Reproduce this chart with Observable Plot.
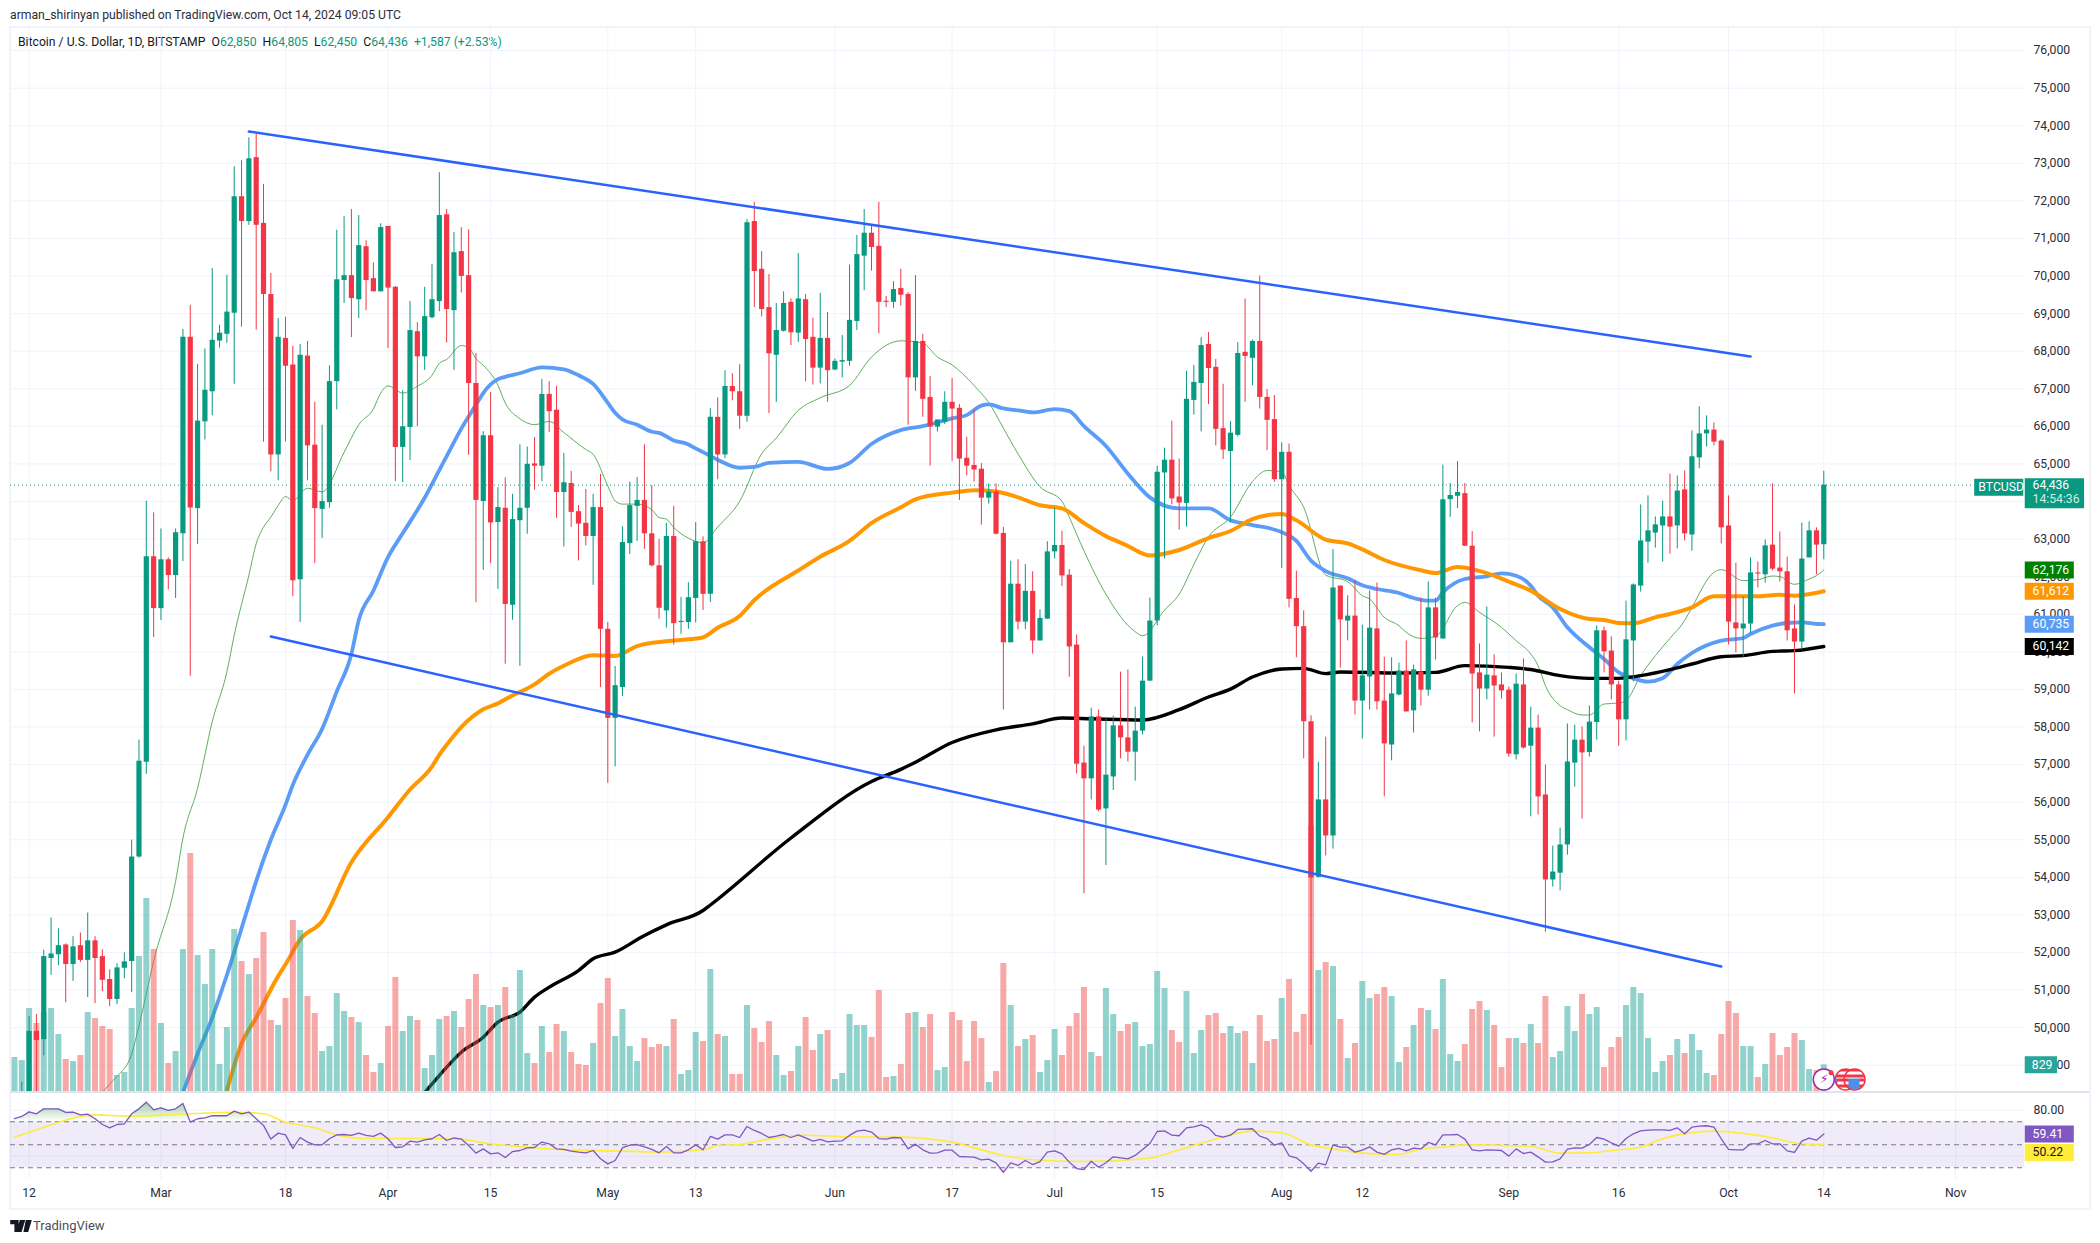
<!DOCTYPE html>
<html><head><meta charset="utf-8">
<script src="https://cdn.jsdelivr.net/npm/d3@7"></script>
<script src="https://cdn.jsdelivr.net/npm/@observablehq/plot@0.6"></script>
<style>
html,body{margin:0;padding:0;background:#fff}
#stage{position:relative;width:2100px;height:1243px;overflow:hidden;font-family:"Roboto",sans-serif;color:#131722}
#stage svg.plot-layer{position:absolute;left:0;top:0;margin:0}
.hd{position:absolute;white-space:pre;font-size:12.2px;line-height:16px}
#frame{position:absolute;left:9px;top:26px;width:2078px;height:1180px;border:2px solid #f0f3fa}
#sep{position:absolute;left:10px;top:1091px;width:2079px;height:2px;background:#e0e3eb}
.g{color:#089981}
</style></head>
<body><div id="stage">
<div id="frame"></div>
<div class="hd" style="left:10px;top:7px;color:#2a2e39">arman_shirinyan published on TradingView.com, Oct 14, 2024 09:05 UTC</div>
<div class="hd" style="left:18px;top:34px">Bitcoin / U.S. Dollar, 1D, BITSTAMP  O<span class="g">62,850</span>  H<span class="g">64,805</span>  L<span class="g">62,450</span>  C<span class="g">64,436</span>  <span class="g">+1,587 (+2.53%)</span></div>
<svg style="position:absolute;left:10px;top:1220px" width="22" height="12" viewBox="0 0 36 20"><path d="M0 0h14v20H7V7H0zM16 0h9l-6 20h-9zM26 0h10l-6 20h-8z" fill="#131722"/><circle cx="20" cy="4" r="3.5" fill="#131722"/></svg>
<div class="hd" style="left:33px;top:1218px;font-size:13px;color:#4a4e59">TradingView</div>
</div>
<script>
// Daily Bitstamp BTC/USD candles, one value per day from 10 Feb 2024 to 14 Oct 2024
const opens = [
47130,47770,48290,49900,49680,51840,51940,52200,51680,52180,51790,52310,51890,51280,50750,51580,51760,54540,57060,62530,
61150,62450,62030,63140,68370,63810,66120,66920,68270,68450,69010,72110,71450,73150,71400,69510,65240,68340,67630,61920,67870,65500,63790,63970,67190,69880,70010,69370,70780,69930,69580,
71320,69700,65440,65970,68520,67850,68890,69320,71630,69080,70650,70010,67140,64000,65750,63440,63820,61240,63490,63820,65000,64940,66850,66430,64240,64480,63730,63420,63070,63840,
60600,58230,59050,62880,63870,64030,63140,62290,61090,63070,60780,60780,61420,62930,61530,66240,65240,67060,66920,66270,71450,70180,69160,67890,68530,69300,68480,69370,68370,67550,68340,
67500,67710,67730,68790,70530,71140,70790,69330,69300,69670,69510,67290,68260,66770,65980,66110,66640,66480,65150,64960,64860,64090,64250,63150,60240,61800,60790,61610,60290,60870,
62660,62830,62040,60180,57040,56620,58270,55820,56670,58030,57710,57330,57890,59220,60820,64760,65100,64120,63950,66690,67140,68180,67570,65940,65330,65760,67970,67810,68260,66770,66180,
64580,65310,61420,60670,58140,54000,56060,55100,61750,60820,60950,58690,59330,60610,58690,57520,58850,59490,58430,59460,58980,61170,60340,64050,64140,64210,62810,59440,59010,59360,59120,
58980,57260,59120,57490,57970,56190,53930,54110,54860,57040,57650,57320,58120,60560,60020,59120,58190,60290,61750,62920,63160,63350,63590,63350,64310,63110,65160,65800,65900,65610,
63350,60770,60610,60740,62100,62050,62840,62230,62130,60610,60260,62500,63220,62850];
const highs = [
48150,48550,50300,50350,52060,52920,52630,52230,52420,52520,53050,52420,52070,51540,51700,51990,54990,57650,64010,63700,
63270,62500,63270,68580,69220,67650,68060,70200,68690,70020,72910,73070,73680,73820,72440,70070,68870,68900,68130,68180,68260,66640,66030,67610,71220,71580,71770,71610,70940,70350,71390,
71320,69720,66950,69320,68760,69700,70310,72750,71770,71160,71290,71230,67940,65860,66900,64370,64630,64190,65510,65450,65700,67250,67190,67060,65280,64800,63890,64320,64190,64720,
60780,59610,63330,64520,64640,65510,64420,62990,63420,63870,61450,61840,63440,63060,66470,66760,67480,67400,67640,71500,71960,70650,70040,69270,69580,69390,70600,69510,68880,69540,69030,
67790,68420,70290,71080,71770,71370,71960,69460,69850,70180,69560,70010,68450,67330,66170,66920,67270,66580,65710,66430,65010,64470,64470,63310,62410,62450,62320,62130,61110,62930,
63820,63210,62190,60450,57490,58500,58450,58210,58290,59460,59520,58530,59860,61430,64940,65420,66140,65130,67470,67620,68360,68500,67780,67120,66130,68230,69390,68300,70000,66980,66820,
65560,65530,62150,61090,58300,57060,57730,62720,61750,61490,61890,60710,61620,61830,59860,59840,59700,60290,59650,61430,61860,61430,64970,64480,65060,64480,63200,60210,61190,59920,59440,
59060,59410,59810,58530,58320,56990,54830,55310,58080,58050,58000,58560,60690,60660,60400,59220,61350,61810,63910,64150,63590,64010,64730,64680,64810,65880,66520,66280,66090,65640,
64150,62360,61460,62500,62390,62980,64470,63190,62520,61250,63430,63460,63300,64805];
const lows = [
46800,47700,47500,48280,49250,51390,51650,50660,51230,51730,50800,50640,50960,50560,50610,51300,50930,54510,56740,60380,
60830,61650,61420,62400,59350,62860,65640,66280,68080,68210,67120,68640,71350,68560,65580,64790,64550,65590,61470,60780,64550,62350,63020,63820,66440,69270,68360,68870,69080,69580,69580,
68070,64530,64500,65090,65990,67490,68860,69050,68220,67490,69550,65230,61310,62170,62350,61660,59670,60840,59610,63130,64300,64530,65840,63550,62790,63310,62420,62820,61770,59050,
56500,56940,58810,62590,62940,62730,62260,60870,60630,60180,60470,60600,60770,61100,61310,64580,65140,66680,65920,66110,69160,68910,66340,66640,68510,68150,68230,67190,67100,67130,66640,
67480,67290,67600,68550,69610,70130,68460,69160,69140,69200,66030,66930,66240,64940,65850,66050,65070,64030,64680,64520,63370,63930,63110,58450,60240,60580,60590,59940,60290,60870,
62470,61740,59320,56750,53560,56060,55740,54310,56310,57150,57070,56560,57790,59220,60690,62470,63910,63240,63320,66300,65850,66580,65480,65120,63430,65720,66640,67080,66460,65350,64510,
62220,61170,59840,57150,49530,53980,54570,54750,59570,60290,58320,57680,58450,58450,56140,57100,58830,58400,57840,58560,58820,59780,60340,63580,63810,62810,58110,57870,58720,57730,58740,
57200,57120,57410,55610,55660,52540,53740,53640,54590,56400,55550,57200,57650,59440,58720,57490,57630,59200,61590,62360,62760,62390,62600,62740,62950,62680,64870,65450,65480,62870,
60180,59970,59860,60480,61700,61830,62150,61860,60290,58880,60050,62500,62050,62450];
const closes = [
47770,48290,49900,49660,51890,51960,52180,51680,52150,51790,52310,51840,51260,50750,51590,51750,54540,57090,62530,61150,
62450,62030,63170,68370,63830,66140,66960,68290,68480,69040,72110,71450,73120,71350,69510,65240,68370,67600,61890,67890,65480,63810,64000,67190,69900,70010,69400,70810,69880,69580,71290,
69680,65440,65990,68550,67850,68920,69370,71610,69110,70620,69990,67140,64030,65750,63430,63840,61260,63520,63820,64990,64940,66850,66390,64240,64500,63710,63400,63070,63840,60600,
58230,59100,62910,63890,64030,63140,62290,61160,63070,60750,60810,61440,62930,61530,66240,65240,67060,66920,66270,71420,70120,69110,67930,68550,69270,68490,69390,68310,67550,68340,67480,
67730,67750,68820,70570,71140,70760,69300,69300,69640,69490,67290,68260,66720,65980,66170,66640,66460,65130,64940,64840,64090,64250,63130,60240,61800,60790,61610,60290,60890,62660,
62830,62020,60130,57010,56620,58270,55790,56720,58030,57710,57330,57890,59220,60820,64780,65100,64070,63960,66720,67170,68150,67540,65920,65370,65820,67940,67860,68260,66770,66160,64580,
65310,61400,60670,58140,53980,56060,55100,61700,60850,60950,58690,59360,60630,58670,57550,58880,59490,58400,59520,58980,61170,60370,64050,64160,64240,62810,59410,59010,59380,59090,58960,
57280,59140,57440,57970,56140,53930,54140,54860,57070,57650,57310,58130,60560,60000,59120,58190,60320,61780,62950,63220,63380,63590,63320,64280,63140,65190,65800,65900,65580,63300,
60790,60610,60740,62100,62070,62820,62200,62130,60560,60260,62470,63220,62840,64436];
const volumes = [
1050,960,2520,2070,2400,2520,1740,990,930,1110,2400,2220,1980,1890,510,600,2520,4080,5820,4290,
2070,870,1230,4290,7170,4110,3240,4290,840,1950,4890,3930,3540,4020,4800,2160,2010,2820,5160,4860,2880,2370,1230,1380,2970,2430,2250,2100,1110,600,870,
1980,3450,1830,2280,2160,720,1110,2190,2280,2430,1950,2790,3540,2610,2550,2610,3150,2310,3660,1170,870,1980,1200,2040,1830,1200,840,810,1470,2670,
3420,1680,2490,1380,930,1620,1350,1440,1380,2190,540,660,1800,1530,3690,1740,1680,540,540,2610,1920,1500,2130,1110,510,630,1380,2250,1260,1740,1860,
390,570,2340,2010,2010,1650,3060,450,480,840,2370,2400,1950,2340,660,750,2400,2160,930,2130,1620,300,630,3870,2610,1380,1590,1710,600,960,
1890,1110,1980,2370,3150,1200,1080,3120,2340,1830,2040,2100,1380,1440,3630,3120,1860,1500,3030,1170,1860,2310,2370,1770,1980,1770,1830,870,2310,1530,1590,
2820,3390,1800,2340,7980,3660,3900,3780,2190,1020,1470,3330,2820,2940,3150,2880,900,1350,2010,2520,2460,1890,3390,1140,930,1440,2490,2730,2460,2010,750,
1620,1620,1470,2040,1470,2880,1050,1230,2580,1830,2940,2340,2550,750,1350,1650,2610,3150,2970,1620,600,930,1110,1590,1170,1740,1260,570,510,1740,
2730,2370,1380,1380,450,840,1770,1110,1350,1770,1560,690,660,829];
const rsiValues = [
72.6,74.6,78.6,76.9,81.2,81.2,81.2,78.1,78.4,76.0,76.6,72.6,67.6,64.7,67.6,68.2,76.9,81.2,87.0,80.4,82.1,
79.8,81.2,85.9,69.7,72.6,73.4,75.2,75.2,75.2,79.2,76.9,78.4,72.6,66.8,54.9,60.1,58.6,46.8,56.3,52.3,
49.9,49.9,55.2,58.6,58.9,58.1,60.1,58.1,57.2,60.1,55.2,47.6,48.2,53.1,52.3,54.3,55.2,58.9,53.7,56.0,
54.9,49.4,42.7,46.4,42.1,43.0,38.9,44.1,45.0,47.3,47.6,52.3,50.8,46.4,45.9,44.4,43.6,43.0,45.0,37.8,
33.4,36.3,47.3,49.6,50.2,48.2,45.9,43.0,48.5,43.0,43.0,45.6,49.9,
45.6,57.2,54.9,58.6,58.6,56.3,65.9,62.4,59.8,56.3,57.5,58.9,56.3,58.6,56.0,53.1,54.6,52.5,53.1,53.4,58.1,61.8,62.7,61.0,55.4,54.9,56.3,56.0,46.4,50.5,45.6,42.7,43.0,45.3,45.3,39.8,39.5,39.2,36.9,37.5,34.3,25.9,34.3,32.0,36.3,32.8,35.4,43.6,44.7,42.1,34.9,29.3,28.5,35.7,30.5,34.3,39.5,38.6,37.8,40.7,45.9,51.1,61.5,62.1,58.3,57.8,64.7,65.6,67.3,64.7,58.1,56.6,58.3,63.3,63.6,63.9,57.5,55.4,49.6,51.7,40.4,38.6,33.4,27.0,34.0,32.5,49.9,47.9,47.9,43.6,45.3,48.2,43.6,41.6,45.6,46.8,
44.7,47.0,46.4,52.0,49.9,58.6,58.6,58.9,54.9,45.6,44.7,45.6,45.3,45.0,40.1,46.4,42.4,43.6,39.5,34.9,35.2,37.8,46.2,47.3,47.0,50.2,56.3,54.9,51.7,48.8,55.4,59.5,62.1,62.7,63.0,63.0,62.4,64.7,59.5,65.3,66.2,66.5,65.3,55.2,45.9,45.6,45.6,50.8,50.8,53.7,50.8,50.8,44.7,43.3,53.1,55.7,54.0,59.41];

// Moving averages and RSI average, read at key points. Days count from 12 Feb 2024.
const greenDays = [10,11,12,14,15,16,17,20,21,23,25,27,28,30,31,32,33,34,35,36,38,40,43,45,47,48,49,51,53,55,56,57,59,60,61,62,64,65,67,69,71,73,76,77,79,80,81,83,85,86,87,88,90,92,94,97,100,102,105,108,112,115,119,122,124,126,129,131,133,135,138,141,142,144,147,151,152,155,157,159,161,164,167,169,171,172,174,177,180,182,183,185,187,188,190,192,195,196,198,201,203,205,206,207,209,210,212,213,215,217,218,220,222,224,226,227,230,231,234,236,238,239,241,243,244,245];
const greenVals = [48274,48500,48700,49300,50050,50900,51770,53893,55044,56371,58141,59469,60442,62035,62876,63319,63584,63894,64133,64027,64353,64257,65309,66045,66466,66887,67077,66887,67066,67361,67676,67781,68150,68097,67802,67624,67098,66624,66204,66045,66130,65835,65383,65257,64415,64015,63931,63931,63784,63573,63531,63310,63026,62900,63321,64005,65268,65688,66425,66761,67088,67845,68276,68213,67845,67635,67088,66635,65952,65268,64395,64005,63584,62690,61533,60534,60428,61112,61533,62322,63058,63584,64531,64826,64794,64426,63847,62044,61867,61494,61405,60918,60696,60518,60359,60412,61228,61317,61051,60652,60297,59942,59632,59099,58568,58461,58319,58319,58612,58638,58700,59366,59898,60359,60830,61184,62116,62187,61894,61920,62018,62000,61796,61938,62027,62176];
const blueDays = [21,23,25,27,30,31,33,35,36,38,40,42,44,45,47,49,51,54,56,57,59,61,62,64,65,67,70,73,75,77,79,80,81,83,85,86,88,90,91,92,94,97,99,101,105,109,112,115,119,122,126,128,130,131,133,135,137,140,142,144,147,150,153,157,161,164,167,171,173,175,177,180,182,184,187,189,191,192,193,196,199,201,203,205,206,208,210,213,215,217,219,221,223,225,227,231,234,235,238,240,242,244,245];
const blueVals = [48274,49300,50265,51400,53274,53900,55000,55929,56460,57256,57950,58944,59944,60838,61627,62521,63153,64099,64836,65204,65940,66572,66887,67255,67318,67413,67571,67518,67361,67129,66624,66361,66182,66045,65856,65825,65625,65520,65414,65315,65110,64899,64920,65026,65057,64868,65026,65531,65899,66004,66214,66299,66551,66583,66477,66425,66372,66456,66404,66004,65478,64741,64110,63816,63816,63500,63374,63185,62953,62427,62150,61955,61770,61672,61565,61432,61361,61361,61583,61938,62009,62088,62026,61761,61495,61184,60652,60120,59809,59455,59295,59206,59295,59676,59969,60297,60368,60475,60696,60767,60785,60741,60735];
const orangeDays = [27,29,31,34,35,37,40,44,49,52,55,56,57,59,62,64,66,69,71,73,77,80,83,87,90,92,94,97,99,105,108,112,115,119,121,126,129,132,135,138,141,144,147,150,152,153,157,161,164,167,169,171,173,177,180,182,185,190,192,195,197,201,202,205,209,213,215,217,219,222,224,227,230,233,236,239,241,245];
const orangeVals = [48327,49569,50265,51371,51681,52345,52832,54400,55600,56336,56946,57261,57524,57998,58471,58629,58839,59134,59418,59628,59912,59891,60154,60280,60333,60386,60639,60954,61375,62164,62532,62953,63427,63847,64058,64237,64300,64268,64110,63900,63816,63427,63079,62816,62617,62564,62711,63027,63216,63532,63637,63668,63500,62985,62885,62725,62444,62171,62097,62255,62202,61950,61867,61628,61140,60874,60847,60767,60758,60918,61007,61184,61477,61477,61477,61521,61495,61612];
const blackDays = [54,56,59,62,64,67,69,71,75,77,80,84,87,92,93,104,115,119,121,126,132,137,141,145,152,157,161,164,167,171,174,177,179,187,192,196,202,205,209,213,217,220,224,227,231,234,238,241,245];
const blackVals = [48274,48726,49347,49746,50145,50412,50811,51077,51520,51831,52008,52452,52735,53117,53263,55046,56550,56872,57062,57588,57925,58083,58240,58219,58187,58461,58798,59008,59330,59543,59560,59420,59465,59436,59454,59632,59587,59530,59366,59295,59295,59366,59526,59676,59871,59898,60013,60031,60142];
const rsiAvgDays = [-2,2,7,9,14,20,28,32,35,39,42,46,50,55,59,63,68,74,80,86,92,94,97,101,106,112,119,126,133,137,144,153,156,161,167,171,175,178,182,187,190,193,196,205,209,213,217,220,223,230,238,242,245];
const rsiAvgVals = [56.6,65.3,74.6,76.0,74.9,76.3,78.3,76.9,69.6,64.7,58.6,55.4,55.4,55.4,54.6,50.8,47.9,45.3,44.7,43.6,45.6,49.4,50.2,54.9,58.3,56.9,56.6,52.3,40.7,36.9,35.4,38.3,43.6,53.1,61.8,60.4,49.9,46.4,42.7,41.5,46.4,47.9,49.9,48.5,42.7,43.0,45.6,47.9,55.2,61.8,56.0,50.8,50.22];

// Channel trend lines
const upperDays = [30,235], upperPrices = [73846,67859];
const lowerDays = [33,231], lowerPrices = [60408,51627];

// Axis labels
const priceTicks = d3.range(49000,76001,1000);
const rsiTicks = [80], rsiGrid = [80,40];
const tickDays = [0,18,35,49,63,79,91,110,126,140,154,171,182,202,217,232,245,263];
const tickLabels = ["12","Mar","18","Apr","15","May","13","Jun","17","Jul","15","Aug","12","Sep","16","Oct","14","Nov"];

const DAY = 864e5, ORIGIN = Date.UTC(2024,1,12);
const day = d => new Date(ORIGIN + d*DAY);
const dates = opens.map((_,i)=>day(i-2));
const candles = dates.map((date,i)=>({date,o:opens[i],h:highs[i],l:lows[i],c:closes[i],v:volumes[i],up:closes[i]>=opens[i]}));
const rsiRows = rsiValues.map((r,i)=>({date:day(i-2),r}));
const domainX = [day(-2.54),day(272.4)];
const tickDates = tickDays.map(day);
const tickText = new Map(tickDates.map((d,i)=>[+d,tickLabels[i]]));

const UP="#089981", DOWN="#f23645", GRID="#f0f3fa";
const FONT='"Roboto",sans-serif', FS=12.2;
const base = {width:2100,height:1243,marginLeft:10,marginRight:76,marginTop:28,marginBottom:151,
  style:{background:"transparent",fontFamily:FONT,fontSize:FS+"px",color:"#131722",position:"absolute",left:0,top:0,maxWidth:"none"},
  x:{type:"utc",domain:domainX,axis:null}};
const priceY = {domain:[48274,76587],axis:null};

const line=(days,vals,stroke,w,extra={})=>Plot.line(vals,{x:(_,i)=>day(days[i]),y:d=>d,stroke,strokeWidth:w,clip:true,curve:"monotone-x",strokeLinejoin:"round",...extra});
const badge=(v,x1,x2,fill,h,dy=0)=>Plot.ruleY([v],{y:d=>d,x1:()=>day(x1),x2:()=>day(x2),stroke:fill,strokeWidth:h,dy});
const label=(v,x,text,fill,dy=0,extra={})=>Plot.text([v],{y:d=>d,x:()=>day(x),text:()=>text,fill,textAnchor:"start",dy,fontSize:FS,...extra});

const plotA = Plot.plot({...base,y:priceY,marks:[
  Plot.gridX({ticks:tickDates,stroke:GRID,strokeOpacity:1}),
  Plot.gridY({ticks:priceTicks,stroke:GRID,strokeOpacity:1}),
  Plot.axisY({anchor:"right",ticks:priceTicks,tickSize:0,tickPadding:9,tickFormat:d3.format(","),label:null,fill:"#2a2e39",fontSize:FS}),
  line(greenDays,greenVals,"#5fae5f",1),
  line(blueDays,blueVals,"#5b9cf6",3.8),
  line(orangeDays,orangeVals,"#ff9800",4),
  line(blackDays,blackVals,"#000000",3.4)
]});

const plotB = Plot.plot({...base,y:{domain:[0,31920],axis:null},marks:[
  Plot.ruleX(candles,{x:"date",y1:0,y2:"v",stroke:"#26a69a",strokeOpacity:.5,strokeWidth:6,clip:true,filter:d=>d.up}),
  Plot.ruleX(candles,{x:"date",y1:0,y2:"v",stroke:"#ef5350",strokeOpacity:.5,strokeWidth:6,clip:true,filter:d=>!d.up}),
  badge(829,272.5,276.9,"#26a69a",17),
  label(829,273.4,"829","#ffffff")
]});

const defs = () => {
  const el = document.createElementNS("http://www.w3.org/2000/svg","defs");
  el.innerHTML = `<pattern id="usFlag" width="22" height="22" patternUnits="userSpaceOnUse" x="0" y="0">
    <rect width="22" height="22" fill="#fff"/>
    <rect y="0" width="22" height="3" fill="#f23645"/><rect y="6" width="22" height="3" fill="#f23645"/>
    <rect y="12" width="22" height="3" fill="#f23645"/><rect y="18" width="22" height="3" fill="#f23645"/>
    <rect width="11" height="11" fill="#4f8fe8"/></pattern>
    <linearGradient id="obGrad" x1="0" y1="0" x2="0" y2="1"><stop offset="0" stop-color="#4caf50" stop-opacity=".55"/><stop offset="1" stop-color="#4caf50" stop-opacity="0"/></linearGradient>
    <linearGradient id="osGrad" x1="0" y1="0" x2="0" y2="1"><stop offset="0" stop-color="#f23645" stop-opacity="0"/><stop offset="1" stop-color="#f23645" stop-opacity=".4"/></linearGradient>`;
  return el;
};

const plotC = Plot.plot({...base,y:priceY,marks:[
  defs,
  Plot.ruleY([64436],{y:d=>d,x1:()=>domainX[0],x2:()=>day(265.6),stroke:UP,strokeDasharray:"1,3",strokeWidth:1}),
  Plot.ruleX(candles,{x:"date",y1:"l",y2:"h",stroke:UP,strokeWidth:1,clip:true,filter:d=>d.up}),
  Plot.ruleX(candles,{x:"date",y1:"l",y2:"h",stroke:DOWN,strokeWidth:1,clip:true,filter:d=>!d.up}),
  Plot.ruleX(candles,{x:"date",y1:"o",y2:"c",stroke:UP,strokeWidth:5.2,clip:true,filter:d=>d.up}),
  Plot.ruleX(candles,{x:"date",y1:"o",y2:"c",stroke:DOWN,strokeWidth:5.2,clip:true,filter:d=>!d.up}),
  line(upperDays,upperPrices,"#2962ff",2.5),
  line(lowerDays,lowerPrices,"#2962ff",2.5),
  // event icons on the last bar
  Plot.dot([48620],{y:d=>d,x:()=>day(248),r:10.5,fill:"url(#usFlag)",stroke:"#f23645",strokeWidth:1.5}),
  Plot.dot([48620],{y:d=>d,x:()=>day(249.2),r:10.5,fill:"url(#usFlag)",stroke:"#f23645",strokeWidth:1.5}),
  Plot.dot([48620],{y:d=>d,x:()=>day(245),r:10.5,fill:"#ffffff",stroke:"#9c27b0",strokeWidth:1.5}),
  Plot.text([48620],{y:d=>d,x:()=>day(245),text:()=>"\u26A1\uFE0E",fill:"#9c27b0",fontSize:12}),
  Plot.dot([48800],{y:d=>d,x:()=>day(246),r:2.5,fill:"#f23645"}),
  // price badges
  badge(62176,272.5,279.2,"#008000",17),label(62176,273.5,"62,176","#ffffff"),
  badge(61612,272.5,279.2,"#ff9800",17),label(61612,273.5,"61,612","#ffffff"),
  badge(60735,272.5,279.2,"#5b9cf6",17),label(60735,273.5,"60,735","#ffffff"),
  badge(60142,272.5,279.2,"#000000",17),label(60142,273.5,"60,142","#ffffff"),
  badge(64436,265.6,272.3,"#089981",17,2),label(64436,266.1,"BTCUSD","#ffffff",2),
  badge(64436,272.5,280.6,UP,30,8),label(64436,273.5,"64,436","#ffffff",0),label(64436,273.5,"14:54:36","#cfeee8",14)
]});

const plotD = Plot.plot({...base,marginTop:1092,marginBottom:64,y:{domain:[19.8,95.4],axis:null},marks:[
  Plot.gridX({ticks:tickDates,stroke:GRID,strokeOpacity:1}),
  Plot.gridY({ticks:rsiGrid,stroke:GRID,strokeOpacity:1}),
  Plot.rectY([0],{x1:()=>domainX[0],x2:()=>domainX[1],y1:()=>30,y2:()=>70,fill:"#7e57c2",fillOpacity:.12}),
  Plot.areaY(rsiRows,{x:"date",y1:()=>70,y2:d=>Math.max(d.r,70),fill:"url(#obGrad)",clip:true}),
  Plot.areaY(rsiRows,{x:"date",y1:()=>30,y2:d=>Math.min(d.r,30),fill:"url(#osGrad)",clip:true}),
  Plot.ruleY([70,50,30],{stroke:"#787b86",strokeDasharray:"5,4",strokeWidth:1.2}),
  line(rsiAvgDays,rsiAvgVals,"#ffeb3b",1.6),
  Plot.line(rsiRows,{x:"date",y:"r",stroke:"#7e57c2",strokeWidth:1.3,clip:true}),
  Plot.axisY({anchor:"right",ticks:rsiTicks,tickSize:0,tickPadding:9,tickFormat:d3.format(".2f"),label:null,fill:"#2a2e39",fontSize:FS}),
  Plot.axisX({ticks:tickDates,tickSize:0,tickPadding:9,tickFormat:d=>tickText.get(+d),label:null,fill:"#2a2e39",fontSize:FS}),
  badge(59.41,272.5,279.2,"#7e57c2",17),label(59.41,273.5,"59.41","#ffffff"),
  badge(50.22,272.5,279.2,"#ffeb3b",17,8),label(50.22,273.5,"50.22","#131722",8)
]});

const stage=document.getElementById("stage");
const sep=document.createElement("div");sep.id="sep";
for(const p of [plotA,plotB,plotC,plotD]){p.classList.add("plot-layer");stage.appendChild(p);}
stage.appendChild(sep);
</script>
</body></html>
